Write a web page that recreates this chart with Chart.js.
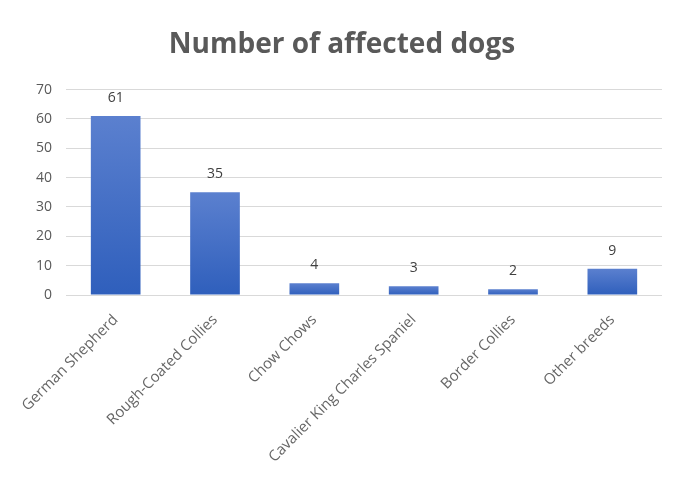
<!DOCTYPE html>
<html>
<head>
<meta charset="utf-8">
<script src="https://cdn.jsdelivr.net/npm/chart.js@4/dist/chart.umd.min.js"></script>
<style>
html, body { margin: 0; padding: 0; background: #fff; }
#wrap { width: 674px; height: 493px; }
</style>
</head>
<body>
<div id="wrap"><canvas id="dogs"></canvas></div>
<script>
var breeds = ['German Shepherd', 'Rough-Coated Collies', 'Chow Chows', 'Cavalier King Charles Spaniel', 'Border Collies', 'Other breeds'];
var affected = [61, 35, 4, 3, 2, 9];
var yTicks = [0, 10, 20, 30, 40, 50, 60, 70];

var font = "'Open Sans', 'Liberation Sans', sans-serif";

// each bar gets its own top-to-bottom blue gradient
function barFill(ctx) {
  var chart = ctx.chart;
  if (!chart.chartArea || ctx.type !== 'data') return '#4472c4';
  var y = chart.scales.y;
  var top = y.getPixelForValue(ctx.raw);
  var bottom = y.getPixelForValue(0);
  if (!(bottom > top)) return '#4472c4';
  var g = chart.ctx.createLinearGradient(0, top, 0, bottom);
  g.addColorStop(0, '#5b80cf');
  g.addColorStop(1, '#2f5fbc');
  return g;
}

// value printed above every bar
var valueLabels = {
  id: 'valueLabels',
  afterDatasetsDraw: function(chart) {
    var c = chart.ctx;
    var meta = chart.getDatasetMeta(0);
    c.save();
    c.fillStyle = '#404040';
    c.font = '14px ' + font;
    c.textAlign = 'center';
    c.textBaseline = 'bottom';
    meta.data.forEach(function(bar, i) {
      c.fillText(String(affected[i]), bar.x, bar.y - 11);
    });
    c.restore();
  }
};

Chart.defaults.font.family = font;
Chart.defaults.color = '#595959';

new Chart(document.getElementById('dogs').getContext('2d'), {
  type: 'bar',
  data: {
    labels: breeds,
    datasets: [{
      data: affected,
      backgroundColor: barFill,
      borderWidth: 0,
      barPercentage: 0.5,
      categoryPercentage: 1
    }]
  },
  options: {
    responsive: true,
    maintainAspectRatio: false,
    animation: false,
    layout: { padding: { left: 22, right: 12, top: 12, bottom: 11 } },
    plugins: {
      legend: { display: false },
      tooltip: { enabled: false },
      title: {
        display: true,
        text: 'Number of affected dogs',
        color: '#595959',
        font: { size: 28, weight: 'bold', family: font },
        padding: { top: 16, bottom: 28 }
      }
    },
    scales: {
      x: {
        grid: { display: false, drawTicks: false },
        border: { display: false },
        ticks: {
          color: '#666666',
          font: { size: 15 },
          minRotation: 45,
          maxRotation: 45,
          padding: 16,
          autoSkip: false
        }
      },
      y: {
        min: 0,
        max: 70,
        afterBuildTicks: function(axis) {
          axis.ticks = yTicks.map(function(v) { return { value: v }; });
        },
        grid: { color: '#d9d9d9', drawTicks: false, lineWidth: 1 },
        border: { display: false },
        ticks: { color: '#595959', font: { size: 14 }, padding: 14 }
      }
    }
  },
  plugins: [valueLabels]
});
</script>
</body>
</html>
